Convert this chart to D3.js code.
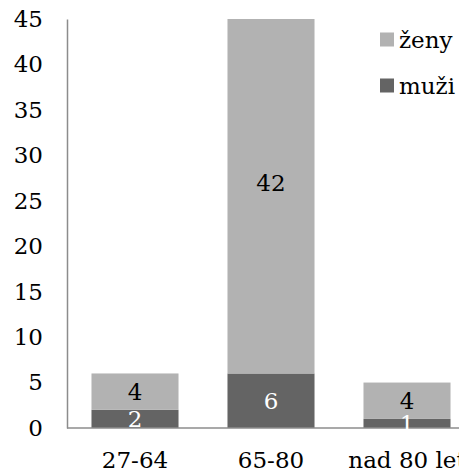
<!DOCTYPE html>
<html>
<head>
<meta charset="utf-8">
<script src="https://cdn.jsdelivr.net/npm/d3@7"></script>
<style>
  html, body { margin: 0; padding: 0; background: #fff; overflow: hidden; }
  svg { display: block; }
  svg text { font-family: "DejaVu Serif", serif !important; }
</style>
</head>
<body>
<script>
const categories = ["27-64", "65-80", "nad 80 let"];
const muzi = [2, 6, 1];
const zeny = [4, 42, 4];
const yTicks = [0, 5, 10, 15, 20, 25, 30, 35, 40, 45];
const seriesNames = ["muži", "ženy"];

const W = 459, H = 472;
const FS = 23;
const svg = d3.select("body").append("svg").attr("width", W).attr("height", H);

const x0 = 67, yTop = 19, yBase = 428;
const x = d3.scaleBand().domain(categories).range([x0, x0 + 3 * 136]).paddingInner(0.36).paddingOuter(0.18);
const y = d3.scaleLinear().domain([0, 45]).range([yBase, yTop]);

const colors = { "muži": "#646464", "ženy": "#b2b2b2" };
const labelColors = { "muži": "#ffffff", "ženy": "#000000" };

const rows = categories.map((c, i) => ({ cat: c, "muži": muzi[i], "ženy": zeny[i] }));
const stack = d3.stack().keys(seriesNames)(rows);

svg.append("defs").append("clipPath").attr("id", "plot")
  .append("rect").attr("x", x0).attr("y", yTop).attr("width", W - x0).attr("height", yBase - yTop);

const g = svg.append("g").attr("clip-path", "url(#plot)");
stack.forEach(layer => {
  g.selectAll(null).data(layer).enter().append("rect")
    .attr("x", d => x(d.data.cat))
    .attr("width", x.bandwidth())
    .attr("y", d => y(d[1]))
    .attr("height", d => y(d[0]) - y(d[1]))
    .attr("fill", colors[layer.key]);
});

// axes
const yAxis = d3.axisLeft(y).tickValues(yTicks).tickSize(0).tickPadding(24);
const ya = svg.append("g").attr("transform", `translate(${x0},0)`).call(yAxis);
ya.attr("font-family", null).attr("font-size", null);
ya.select(".domain").attr("stroke", "#8c8c8c").attr("stroke-width", 1.5);
ya.selectAll("text").attr("font-size", FS).attr("fill", "#000");

const xAxis = d3.axisBottom(x).tickSize(0).tickPadding(0);
const xa = svg.append("g").attr("transform", `translate(0,${yBase})`).call(xAxis);
xa.attr("font-family", null).attr("font-size", null);
xa.select(".domain").attr("stroke", "#8c8c8c").attr("stroke-width", 1.5).attr("d", `M${x0},0H${W + 20}`);
xa.selectAll("text").attr("font-size", FS).attr("fill", "#000").attr("dy", null)
  .attr("y", 40);

// value labels
stack.forEach(layer => {
  svg.selectAll(null).data(layer).enter().append("text")
    .attr("x", d => x(d.data.cat) + x.bandwidth() / 2)
    .attr("y", d => y((d[0] + d[1]) / 2))
    .attr("dy", "0.36em")
    .attr("text-anchor", "middle")
    .attr("font-size", FS)
    .attr("fill", labelColors[layer.key])
    .text(d => d.data[layer.key]);
});

// legend
const legend = [{ name: "ženy", cy: 39.5 }, { name: "muži", cy: 85.5 }];
const lg = svg.selectAll(".lg").data(legend).enter().append("g");
lg.append("rect").attr("x", 380).attr("y", d => d.cy - 7).attr("width", 14).attr("height", 14)
  .attr("fill", d => colors[d.name]);
lg.append("text").attr("x", 399).attr("y", d => d.cy).attr("dy", "0.36em")
  .attr("font-size", FS).attr("fill", "#000").text(d => d.name);
</script>
</body>
</html>
